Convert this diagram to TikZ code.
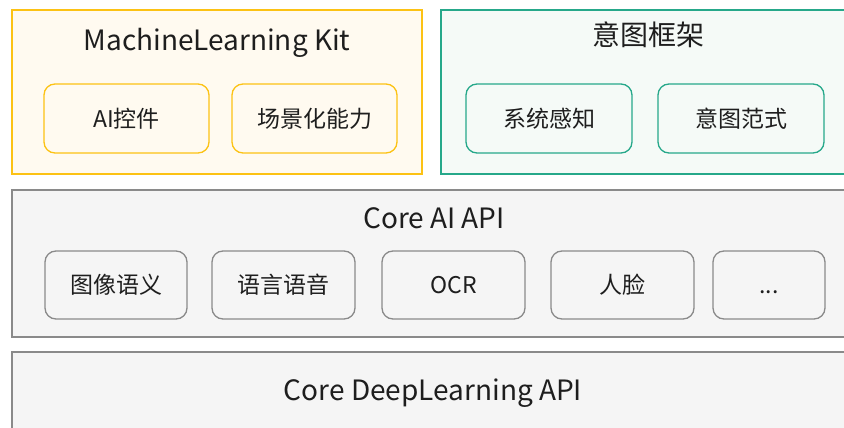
\documentclass[tikz,border=0pt]{standalone}
\usepackage{fontspec}
\setmainfont{Noto Sans CJK SC}
\usetikzlibrary{positioning}

\definecolor{kitline}{RGB}{252,194,20}
\definecolor{kitfill}{RGB}{255,250,240}
\definecolor{intline}{RGB}{38,168,138}
\definecolor{intfill}{RGB}{245,250,247}
\definecolor{apiline}{RGB}{138,138,138}
\definecolor{apifill}{RGB}{245,245,245}
\definecolor{txt}{RGB}{30,30,30}

\begin{document}
\begin{tikzpicture}[x=1pt,y=-1pt,
  frame/.style={draw,line width=1.6pt,inner sep=0pt},
  unit/.style={draw,rounded corners=11pt,line width=1.3pt,inner sep=0pt,
    minimum height=69pt,text=txt,font=\fontsize{23}{26}\selectfont},
  title/.style={text=txt,font=\fontsize{28}{31}\selectfont}]
\useasboundingbox (0,0) rectangle (844,428);
\clip (0,0) rectangle (844,428);

% upper layer
\node[frame,draw=kitline,fill=kitfill,minimum width=410pt,minimum height=164pt] (kit) at (217,92) {};
\node[title] (kittitle) at (217,43) {MachineLearning Kit};
\node[unit,draw=kitline,fill=kitfill,minimum width=165pt] (aictl) at (126.5,118.5) {AI控件};
\node[unit,draw=kitline,fill=kitfill,minimum width=165pt] (scene) at (314.5,118.5) {场景化能力};

\node[frame,draw=intline,fill=intfill,minimum width=410pt,minimum height=164pt] (intent) at (646,92) {};
\node[title] (intenttitle) at (648,35) {意图框架};
\node[unit,draw=intline,fill=intfill,minimum width=166pt] (sense) at (549,118.5) {系统感知};
\node[unit,draw=intline,fill=intfill,minimum width=166pt] (paradigm) at (741,118.5) {意图范式};

% Core AI API
\node[frame,draw=apiline,fill=apifill,minimum width=838pt,minimum height=147pt] (coreai) at (431,263.5) {};
\node[title] (coreaititle) at (434,218) {Core AI API};
\node[unit,draw=apiline,fill=apifill,minimum width=142pt,minimum height=68pt] (image) at (116,285) {图像语义};
\node[unit,draw=apiline,fill=apifill,minimum width=143pt,minimum height=68pt] (speech) at (283.5,285) {语言语音};
\node[unit,draw=apiline,fill=apifill,minimum width=143pt,minimum height=68pt] (ocr) at (453.5,285) {OCR};
\node[unit,draw=apiline,fill=apifill,minimum width=143pt,minimum height=68pt] (face) at (622.5,285) {人脸};
\node[unit,draw=apiline,fill=apifill,minimum width=112pt,minimum height=68pt] (more) at (769,285) {\smash{\raisebox{-8pt}{...}}};

% Core DeepLearning API
\node[frame,draw=apiline,fill=apifill,minimum width=838pt,minimum height=100pt] (coredl) at (431,402) {};
\node[title] (coredltitle) at (433,393) {Core DeepLearning API};
\end{tikzpicture}
\end{document}
